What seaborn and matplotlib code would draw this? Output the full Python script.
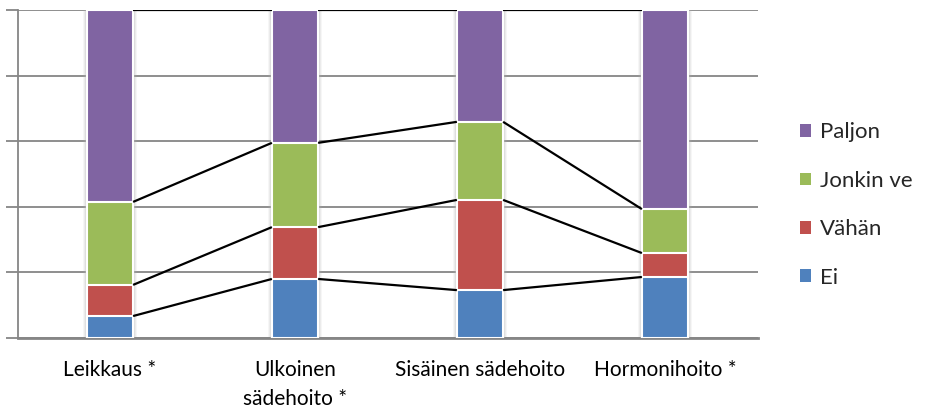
import matplotlib
matplotlib.use("Agg")
import matplotlib.pyplot as plt
import seaborn as sns
import pandas as pd
import numpy as np
from matplotlib.patches import Patch

# Shares (%) of each answer per treatment
categories = ["Leikkaus *", "Ulkoinen\nsädehoito *", "Sisäinen sädehoito", "Hormonihoito *"]
series = ["Ei", "Vähän", "Jonkin ve", "Paljon"]
ei = [6.7, 18.0, 14.6, 18.6]
vahan = [9.5, 15.8, 27.5, 7.3]
jonkin = [25.3, 25.7, 23.8, 13.4]
paljon = [58.5, 40.5, 34.1, 60.7]
colors = ["#4F81BD", "#C0504D", "#9BBB59", "#8064A2"]

values = np.array([ei, vahan, jonkin, paljon])
cum = np.cumsum(values, axis=0)

rows = []
for s, name in enumerate(series):
    for c, cat in enumerate(categories):
        rows.append({"kategoria": cat, "vastaus": name, "osuus": values[s, c], "kertyma": cum[s, c]})
df = pd.DataFrame(rows)

sns.set_theme(style="white")
plt.rcParams["font.family"] = ["Lato", "DejaVu Sans"]

fig = plt.figure(figsize=(9.25, 4.09), dpi=100)
ax = fig.add_axes([17.5 / 925, (409 - 338) / 409, 740 / 925, 328 / 409])

bar_w = 0.25
grid_c = "#868686"

# soft shadow behind the columns
tot = df[df["vastaus"] == series[-1]]
for extra, a in [(0.045, 0.10), (0.03, 0.15), (0.015, 0.25)]:
    sns.barplot(data=tot, x="kategoria", y="kertyma", order=categories, color="#b0b0b0",
                width=bar_w + extra, alpha=a, linewidth=0, saturation=1, ax=ax, zorder=2)

# stacked columns: draw cumulative totals from the top segment down
for s in range(len(series) - 1, -1, -1):
    sub = df[df["vastaus"] == series[s]]
    sns.barplot(data=sub, x="kategoria", y="kertyma", order=categories, color=colors[s],
                width=bar_w, edgecolor="white", linewidth=1.5, saturation=1, ax=ax, zorder=3)

# series lines joining segment tops between neighbouring columns
for s in range(len(series)):
    for c in range(len(categories) - 1):
        ax.plot([c + bar_w / 2, c + 1 - bar_w / 2], [cum[s, c], cum[s, c + 1]],
                color="black", lw=1.6, zorder=4, solid_capstyle="butt")

ax.set_xlim(-0.5, 3.5)
ax.set_ylim(0, 100)
ax.set_yticks(np.arange(0, 101, 20))
ax.set_yticklabels([])
ax.yaxis.grid(True, color=grid_c, lw=1.3, zorder=0)
ax.set_axisbelow(True)
ax.tick_params(axis="y", direction="out", length=9, width=1.3, color=grid_c, left=True)
ax.tick_params(axis="x", length=0, pad=16, labelsize=15, colors="black")
ax.set_xlabel("")
ax.set_ylabel("")
for sp in ["top", "right"]:
    ax.spines[sp].set_visible(False)
ax.spines["left"].set_color(grid_c)
ax.spines["left"].set_linewidth(1.3)
ax.spines["bottom"].set_color(grid_c)
ax.spines["bottom"].set_linewidth(2)
for lab in ax.get_xticklabels():
    lab.set_verticalalignment("top")
    lab.set_linespacing(1.55)

handles = [Patch(facecolor=colors[s], edgecolor="none", label=series[s]) for s in range(len(series) - 1, -1, -1)]
fig.legend(handles=handles, loc="center left", bbox_to_anchor=(800 / 925, (409 - 205) / 409),
           frameon=False, fontsize=16, handlelength=0.5, handleheight=0.5, handletextpad=0.4,
           labelspacing=1.28, borderpad=0, borderaxespad=0)

fig.savefig("out.png", dpi=100)
